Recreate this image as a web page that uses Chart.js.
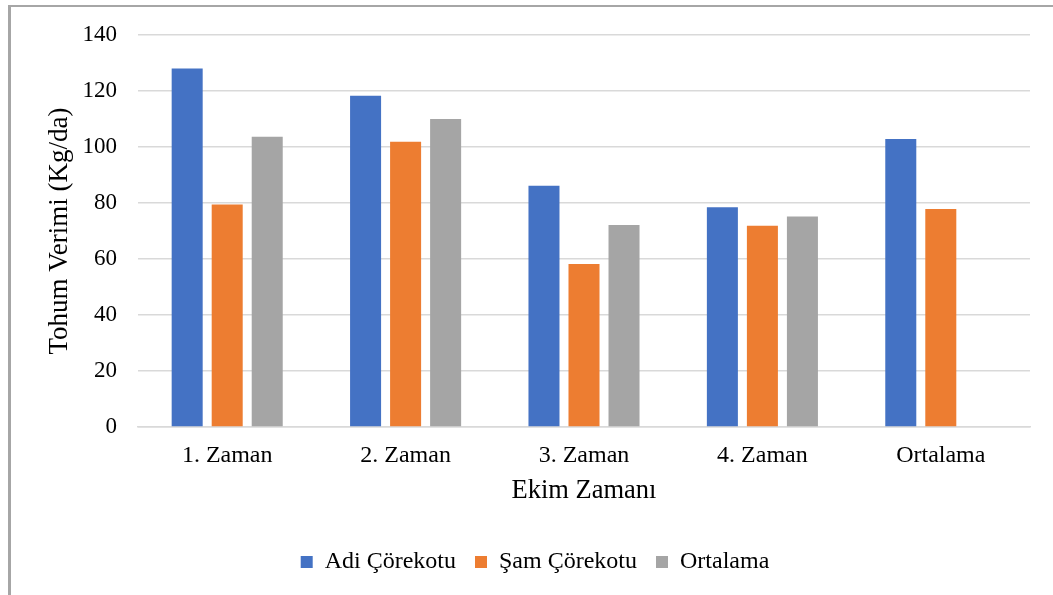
<!DOCTYPE html>
<html>
<head>
  <title>Tohum Verimi</title>
  <script src="https://cdn.jsdelivr.net/npm/chart.js"></script>
  <style>
    body {
      margin: 0;
      background: #ffffff;
    }
    #frame {
      position: absolute;
      left: 8px;
      top: 5px;
      width: 1100px;
      height: 650px;
      border-left: 3px solid #a6a6a6;
      border-top: 2px solid #a6a6a6;
    }
    #wrap {
      position: absolute;
      left: 0;
      top: 0;
      width: 1053px;
      height: 595px;
    }
  </style>
</head>
<body>
  <div id="frame"></div>
  <div id="wrap">
    <canvas id="verimChart"></canvas>
  </div>

<script>
  // categories (sowing times) and the yield of each series
  const categories = ['1. Zaman', '2. Zaman', '3. Zaman', '4. Zaman', 'Ortalama'];
  const adiValues = [128.0, 118.3, 86.2, 78.5, 102.9];
  const samValues = [79.5, 101.9, 58.2, 71.9, 77.9];
  const ortalamaValues = [103.7, 110.0, 72.1, 75.2, null];
  const seriesNames = ['Adi Çörekotu', 'Şam Çörekotu', 'Ortalama'];

  // y axis ticks
  const yMin = 0;
  const yMax = 140;
  const yStep = 20;

  const serif = "'Liberation Serif', 'Times New Roman', serif";
  const gridColor = '#d9d9d9';

  function makeChart() {
    const data = {
      labels: categories,
      datasets: [
        { label: seriesNames[0], data: adiValues, backgroundColor: '#4472c4' },
        { label: seriesNames[1], data: samValues, backgroundColor: '#ed7d31' },
        { label: seriesNames[2], data: ortalamaValues, backgroundColor: '#a5a5a5' }
      ]
    };

    const config = {
      type: 'bar',
      data: data,
      options: {
        responsive: true,
        maintainAspectRatio: false,
        devicePixelRatio: 1,
        animation: false,
        categoryPercentage: 0.673,
        barPercentage: 0.775,
        layout: {
          padding: { left: 40, right: 23, top: 35, bottom: 11 }
        },
        plugins: {
          tooltip: { enabled: false },
          legend: {
            position: 'bottom',
            labels: {
              boxWidth: 12,
              boxHeight: 12,
              padding: 19,
              color: '#000',
              font: { family: serif, size: 24 }
            }
          }
        },
        scales: {
          x: {
            grid: { display: false, drawTicks: false },
            border: { display: true, color: gridColor, width: 1.5 },
            ticks: {
              padding: 14,
              color: '#000',
              font: { family: serif, size: 24 }
            },
            title: {
              display: true,
              text: 'Ekim Zamanı',
              color: '#000',
              font: { family: serif, size: 26.5 },
              padding: { top: 4, bottom: 24.1 }
            },
            afterFit: function(scale) { scale.height = 104; }
          },
          y: {
            min: yMin,
            max: yMax,
            grid: { color: gridColor, lineWidth: 1.5, drawTicks: false },
            border: { display: false },
            ticks: {
              stepSize: yStep,
              padding: 21,
              color: '#000',
              font: { family: serif, size: 23 }
            },
            title: {
              display: true,
              text: 'Tohum Verimi (Kg/da)',
              color: '#000',
              font: { family: serif, size: 27 },
              padding: { top: 4, bottom: 4 }
            },
            afterFit: function(scale) { scale.width = 98; }
          }
        }
      }
    };

    new Chart(document.getElementById('verimChart'), config);
  }

  makeChart();
</script>
</body>
</html>
